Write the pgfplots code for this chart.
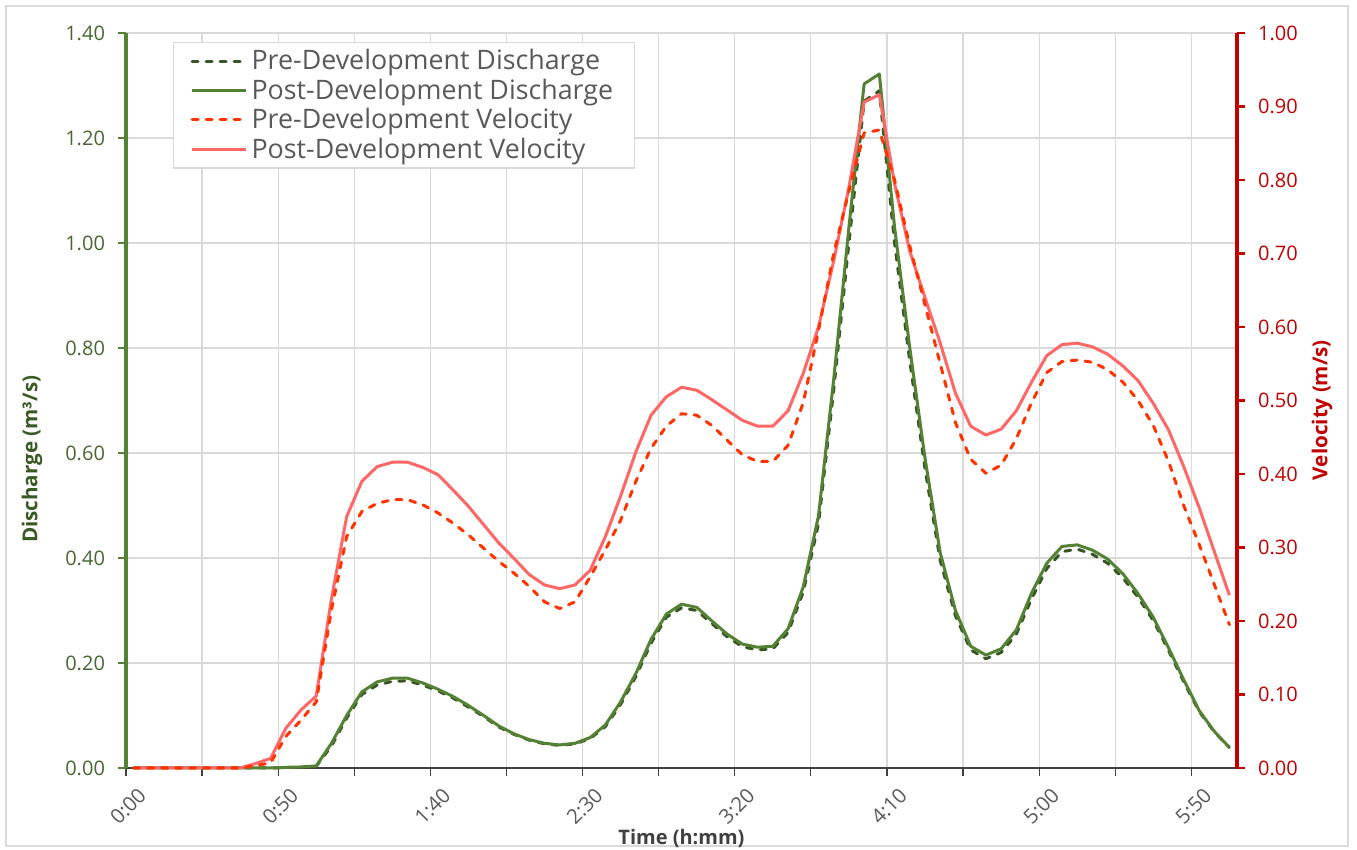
\documentclass[border=0pt]{standalone}
\usepackage{fontspec}
\setmainfont{Open Sans}
\usepackage{pgfplots}
\pgfplotsset{compat=1.18}
\usepackage{pgfplotstable}

\definecolor{gridc}{HTML}{D9D9D9}
\definecolor{postq}{HTML}{548235}
\definecolor{preq}{HTML}{375623}
\definecolor{prev}{HTML}{FF3300}
\definecolor{postv}{HTML}{FF6666}
\definecolor{axred}{HTML}{C00000}
\definecolor{labgreen}{HTML}{456830}
\definecolor{titgreen}{HTML}{3A5A25}
\definecolor{txtgray}{HTML}{595959}
\definecolor{titgray}{HTML}{404040}

\pgfplotstableread{
t rq pq rv pv
0 0 0 0 0
5 0 0 0 0
10 0 0 0 0
15 0 0 0 0
20 0 0 0 0
25 0 0 0 0
30 0 0 0 0
35 0 0 0 0
40 0 0 0.003 0.006
45 0 0 0.007 0.013
50 0.001 0.001 0.043 0.054
55 0.001 0.002 0.065 0.079
60 0.003 0.004 0.090 0.098
65 0.042 0.047 0.215 0.230
70 0.095 0.100 0.315 0.342
75 0.140 0.145 0.349 0.390
80 0.158 0.164 0.360 0.410
85 0.165 0.171 0.365 0.416
90 0.166 0.171 0.365 0.416
95 0.158 0.162 0.358 0.409
100 0.147 0.150 0.347 0.399
105 0.133 0.136 0.333 0.378
110 0.116 0.119 0.317 0.356
115 0.098 0.100 0.299 0.331
120 0.078 0.080 0.281 0.306
125 0.064 0.065 0.265 0.285
130 0.053 0.054 0.247 0.263
135 0.046 0.047 0.226 0.249
140 0.043 0.044 0.217 0.244
145 0.046 0.047 0.226 0.249
150 0.056 0.058 0.260 0.269
155 0.079 0.082 0.297 0.315
160 0.121 0.126 0.337 0.370
165 0.174 0.180 0.390 0.430
170 0.238 0.245 0.435 0.480
175 0.287 0.293 0.465 0.505
180 0.305 0.312 0.482 0.518
185 0.300 0.306 0.480 0.514
190 0.275 0.280 0.466 0.501
195 0.250 0.255 0.446 0.487
200 0.231 0.236 0.426 0.473
205 0.225 0.230 0.417 0.465
210 0.227 0.232 0.417 0.465
215 0.258 0.265 0.439 0.486
220 0.335 0.345 0.497 0.537
225 0.465 0.480 0.595 0.600
230 0.720 0.740 0.700 0.690
235 1.000 1.030 0.785 0.790
240 1.270 1.303 0.864 0.906
245 1.290 1.322 0.868 0.916
250 1.000 1.030 0.800 0.795
255 0.775 0.800 0.710 0.703
260 0.570 0.590 0.630 0.640
265 0.395 0.410 0.550 0.578
270 0.290 0.300 0.470 0.510
275 0.225 0.232 0.420 0.465
280 0.208 0.215 0.401 0.453
285 0.220 0.227 0.412 0.461
290 0.255 0.263 0.448 0.486
295 0.322 0.333 0.497 0.525
300 0.380 0.390 0.538 0.561
305 0.412 0.422 0.553 0.576
310 0.417 0.425 0.555 0.578
315 0.407 0.415 0.552 0.573
320 0.390 0.398 0.542 0.563
325 0.362 0.370 0.525 0.547
330 0.325 0.332 0.500 0.527
335 0.281 0.287 0.466 0.496
340 0.224 0.229 0.417 0.460
345 0.164 0.168 0.357 0.410
350 0.108 0.110 0.305 0.355
355 0.069 0.070 0.250 0.295
360 0.039 0.039 0.195 0.235
}\data

\begin{document}
\begin{tikzpicture}
\useasboundingbox (-63pt,-41pt) rectangle (615.5pt,384pt);
\draw[gridc, line width=0.7pt] (-60pt,-39pt) rectangle (611pt,381pt);
% primary axis: discharge
\begin{axis}[
  at={(0pt,0pt)}, anchor=south west,
  width=555.5pt, height=367.5pt, scale only axis,
  xmin=-2.5, xmax=362.5, ymin=0, ymax=1.4,
  axis lines*=left,
  tick align=outside,
  x axis line style={titgray, line width=0.6pt},
  y axis line style={postq, line width=1.6pt},
  xtick={0,50,...,350},
  xticklabels={0:00,0:50,1:40,2:30,3:20,4:10,5:00,5:50},
  major x tick style={draw=none},
  minor xtick={-2.5,22.5,...,347.5},
  minor x tick style={titgray, line width=0.6pt},
  minor tick length=4pt,
  xminorgrids,
  minor x grid style={gridc, line width=0.6pt},
  xticklabel style={xshift=4.5pt, yshift=-8pt, rotate=45, anchor=east, inner sep=0pt, font=\fontsize{10.2}{11}\selectfont, text=txtgray},
  ytick={0,0.2,0.4,0.6,0.8,1.0,1.2,1.4},
  ymajorgrids,
  major y grid style={gridc, line width=0.6pt},
  ytick style={postq, line width=1.3pt},
  major tick length=4pt,
  yticklabel style={font=\fontsize{10}{11}\selectfont, text=labgreen, xshift=-3pt,
    /pgf/number format/.cd, fixed, fixed zerofill, precision=2, assume math mode=true},
  xlabel={Time (h:mm)},
  xlabel style={at={(axis description cs:0.5,0)}, anchor=center, yshift=-35pt, font=\bfseries\fontsize{10}{12}\selectfont, text=titgray},
  ylabel={Discharge (m³/s)},
  ylabel style={at={(axis description cs:-0.0846,0.42)}, anchor=center, font=\bfseries\fontsize{10.3}{12}\selectfont, text=titgreen},
  clip=false,
]
\addplot[preq, line width=1.5pt, dash pattern=on 3pt off 4pt, line cap=round, line join=round] table[x=t, y=rq] {\data};
\addplot[postq, line width=1.5pt, line join=round] table[x=t, y=pq] {\data};
\end{axis}
% secondary axis: velocity
\begin{axis}[
  at={(0pt,0pt)}, anchor=south west,
  width=555.5pt, height=367.5pt, scale only axis,
  xmin=-2.5, xmax=362.5, ymin=0, ymax=1,
  axis x line=none,
  xtick=\empty,
  axis y line*=right,
  tick align=outside,
  y axis line style={axred, line width=1.6pt},
  ytick={0,0.1,0.2,0.3,0.4,0.5,0.6,0.7,0.8,0.9,1.0},
  ytick style={axred, line width=1.3pt},
  major tick length=4pt,
  yticklabel style={font=\fontsize{10}{11}\selectfont, text=axred, xshift=3pt,
    /pgf/number format/.cd, fixed, fixed zerofill, precision=2, assume math mode=true},
  ylabel={Velocity (m/s)},
  ylabel style={at={(axis description cs:1.0765,0.487)}, anchor=center, font=\bfseries\fontsize{10.3}{12}\selectfont, text=axred},
  legend style={at={(axis description cs:0.0423,0.9878)}, anchor=north west,
    draw=gridc, line width=0.6pt, fill=white, text=txtgray,
    font=\fontsize{13.4}{15}\selectfont, inner xsep=8.5pt, inner ysep=1.5pt,
    row sep=-1pt, cells={anchor=west}},
  legend image code/.code={\draw[#1] (0pt,0pt) -- (27pt,0pt);},
  legend cell align=left,
  clip=false,
]
\addlegendimage{preq, line width=1.5pt, dash pattern=on 3pt off 4pt, line cap=round}
\addlegendentry{Pre-Development Discharge}
\addlegendimage{postq, line width=1.5pt}
\addlegendentry{Post-Development Discharge}
\addlegendimage{prev, line width=1.5pt, dash pattern=on 3pt off 4pt, line cap=round}
\addlegendentry{Pre-Development Velocity}
\addlegendimage{postv, line width=1.5pt}
\addlegendentry{Post-Development Velocity}
\addplot[postv, line width=1.5pt, line join=round, forget plot] table[x=t, y=pv] {\data};
\addplot[prev, line width=1.5pt, dash pattern=on 3pt off 4pt, line cap=round, line join=round, forget plot] table[x=t, y=rv] {\data};
\end{axis}
\end{tikzpicture}
\end{document}
